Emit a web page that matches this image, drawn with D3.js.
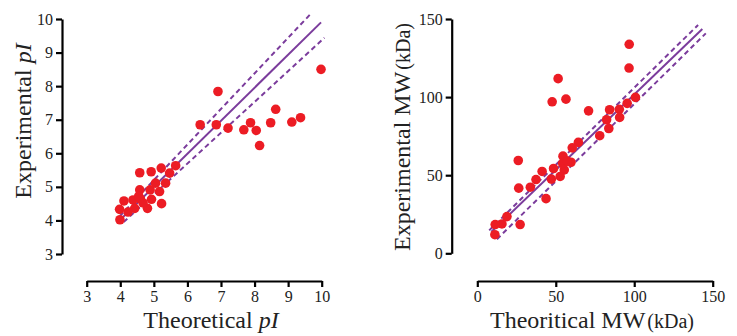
<!DOCTYPE html>
<html>
<head>
<meta charset="utf-8">
<script src="https://cdn.jsdelivr.net/npm/d3@7"></script>
<style>
  html, body { margin: 0; padding: 0; background: #fff; }
  svg { display: block; font-family: "Liberation Serif", "Times New Roman", serif; }
</style>
</head>
<body>
<svg id="chart" width="737" height="336"></svg>
<script>
// ---- left panel: pI ----
const pITicks = [3, 4, 5, 6, 7, 8, 9, 10];
const pITheoretical = [9.98, 6.91, 6.38, 6.86, 7.21, 7.68, 7.88, 8.05, 8.15, 8.48, 8.63, 9.11, 9.37,
  5.65, 5.47, 5.22, 4.92, 4.58, 5.35, 5.05, 4.58, 4.89, 5.17, 4.93, 5.23, 4.81, 4.60, 4.68,
  4.38, 4.11, 4.43, 4.23, 3.98, 3.99, 4.55];
const pIExperimental = [8.50, 7.84, 6.85, 6.85, 6.75, 6.70, 6.91, 6.68, 6.23, 6.91, 7.31, 6.93, 7.06,
  5.63, 5.41, 5.56, 5.45, 5.42, 5.11, 5.11, 4.91, 4.91, 4.86, 4.63, 4.50, 4.36, 4.64, 4.52,
  4.61, 4.58, 4.36, 4.25, 4.33, 4.02, 4.72];
// fit line and confidence band end points [x0, y0, x1, y1]
const pIFit = [4.03, 4.05, 9.98, 9.90];
const pIUpper = [3.98, 4.12, 9.66, 10.14];
const pILower = [4.10, 3.95, 10.08, 9.44];

// ---- right panel: MW ----
const mwTicks = [0, 50, 100, 150];
const mwTheoretical = [96.8, 96.7, 100.8, 95.5, 90.5, 90.7, 84.3, 82.4, 83.8, 78.0, 70.9, 64.4, 60.5,
  59.7, 54.6, 55.4, 54.4, 57.4, 52.8, 48.6, 47.2, 41.3, 37.4, 33.8, 43.8, 26.1, 26.4, 27.3, 18.9,
  15.7, 11.4, 11.2, 47.7, 51.5, 56.5];
const mwExperimental = [133.8, 118.6, 99.8, 96.0, 92.2, 87.0, 91.9, 85.5, 79.9, 75.3, 91.2, 71.0, 67.5,
  58.3, 62.2, 53.4, 57.5, 59.0, 49.2, 54.3, 47.5, 52.4, 47.2, 42.3, 35.0, 59.4, 41.7, 18.4, 23.5,
  18.8, 18.4, 11.9, 97.0, 111.8, 98.7];
const mwFit = [9.0, 13.8, 143.4, 143.6];
const mwUpper = [7.6, 14.7, 140.7, 146.2];
const mwLower = [12.5, 9.0, 145.6, 140.8];

const dotColor = "#ec1c24";
const lineColor = "#7b3c9c";
const svg = d3.select("#chart");

function drawPanel(p) {
  const x = d3.scaleLinear().domain(p.xDomain).range(p.xRange);
  const y = d3.scaleLinear().domain(p.yDomain).range(p.yRange);
  const g = svg.append("g");
  const fmt = d3.format("d");

  // y axis
  const yAxis = g.append("g")
    .attr("transform", `translate(${p.yAxisX},0)`)
    .call(d3.axisLeft(y).tickValues(p.ticks).tickFormat(fmt).tickSize(6).tickPadding(3).tickSizeOuter(0));
  // x axis
  const xAxis = g.append("g")
    .attr("transform", `translate(0,${p.xAxisY})`)
    .call(d3.axisBottom(x).tickValues(p.ticks).tickFormat(fmt).tickSize(6).tickPadding(4).tickSizeOuter(0));

  [yAxis, xAxis].forEach(a => {
    a.attr("font-family", null);
    a.select(".domain").attr("stroke", "#000").attr("stroke-width", 2.2);
    a.selectAll(".tick line").attr("stroke", "#000").attr("stroke-width", 2.2);
    a.selectAll(".tick text").attr("fill", "#222").style("font-size", "16px");
  });

  // regression line + confidence band
  const lines = [[p.upper, true], [p.lower, true], [p.fit, false]];
  lines.forEach(([l, dashed]) => {
    g.append("line")
      .attr("x1", x(l[0])).attr("y1", y(l[1]))
      .attr("x2", x(l[2])).attr("y2", y(l[3]))
      .attr("stroke", lineColor)
      .attr("stroke-width", 2)
      .attr("stroke-dasharray", dashed ? "5,3.5" : null);
  });

  // points
  g.append("g").selectAll("circle")
    .data(p.xs.map((v, i) => [v, p.ys[i]]))
    .enter()
    .append("circle")
    .attr("cx", d => x(d[0]))
    .attr("cy", d => y(d[1]))
    .attr("r", 4.8)
    .attr("fill", dotColor);

  // axis titles
  const xt = g.append("text")
    .attr("x", p.xLabelX).attr("y", 328)
    .attr("text-anchor", "middle")
    .style("font-size", "24px").attr("fill", "#222");
  p.xLabel(xt);

  const yt = g.append("text")
    .attr("transform", `translate(${p.yLabelX},${p.yLabelY}) rotate(-90)`)
    .attr("text-anchor", "middle")
    .style("font-size", "24px").attr("fill", "#222");
  p.yLabel(yt);
}

drawPanel({
  xDomain: [3, 10], xRange: [86.7, 321.7],
  yDomain: [3, 10], yRange: [254, 19],
  yAxisX: 62, xAxisY: 281,
  ticks: pITicks,
  xs: pITheoretical, ys: pIExperimental,
  fit: pIFit, upper: pIUpper, lower: pILower,
  xLabelX: 211, yLabelX: 31, yLabelY: 121,
  xLabel: t => {
    t.append("tspan").text("Theoretical ");
    t.append("tspan").style("font-style", "italic").text("pI");
  },
  yLabel: t => {
    t.append("tspan").text("Experimental ");
    t.append("tspan").style("font-style", "italic").text("pI");
  }
});

drawPanel({
  xDomain: [0, 150], xRange: [477.3, 712.7],
  yDomain: [0, 150], yRange: [253.3, 19],
  yAxisX: 451.7, xAxisY: 281,
  ticks: mwTicks,
  xs: mwTheoretical, ys: mwExperimental,
  fit: mwFit, upper: mwUpper, lower: mwLower,
  xLabelX: 592, yLabelX: 410, yLabelY: 137,
  xLabel: t => {
    t.append("tspan").text("Theoritical MW");
    t.append("tspan").attr("dx", 2).style("font-size", "20px").text("(kDa)");
  },
  yLabel: t => {
    t.append("tspan").text("Experimental MW");
    t.append("tspan").attr("dx", 2).style("font-size", "20px").text("(kDa)");
  }
});
</script>
</body>
</html>
